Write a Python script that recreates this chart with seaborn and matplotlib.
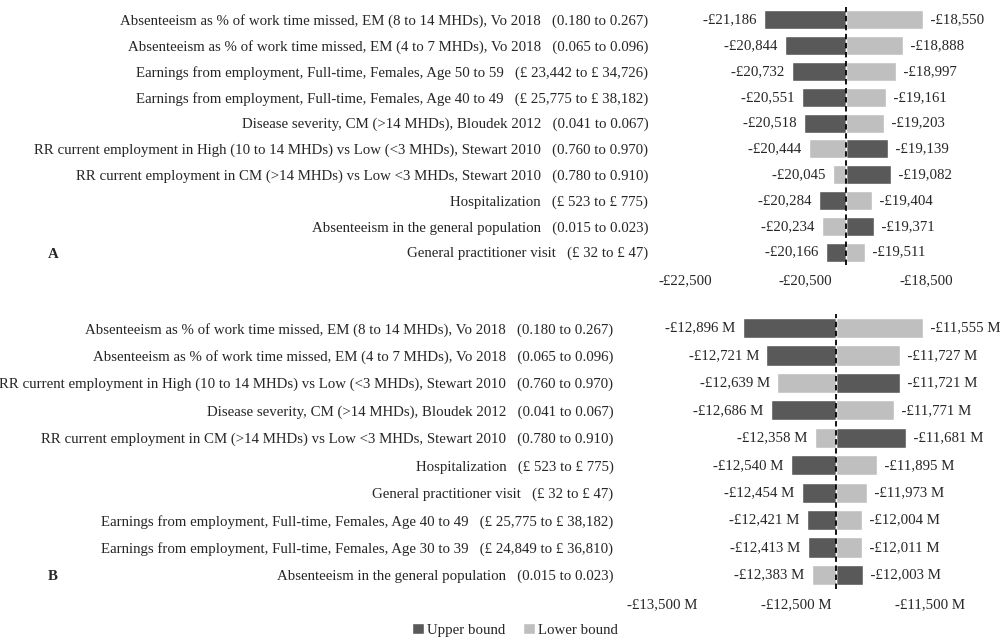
import matplotlib
matplotlib.use("Agg")
import matplotlib.pyplot as plt
import matplotlib.ticker as mticker
from matplotlib.patches import Patch
import seaborn as sns
import pandas as pd

sns.set_theme(style="white")
plt.rcParams['font.family'] = ['Liberation Serif', 'DejaVu Serif']

# ---- Data: panel A (per-person) ----
a_params = [
    "Absenteeism as % of work time missed, EM (8 to 14 MHDs), Vo 2018",
    "Absenteeism as % of work time missed, EM (4 to 7 MHDs), Vo 2018",
    "Earnings from employment, Full-time, Females, Age 50 to 59",
    "Earnings from employment, Full-time, Females, Age 40 to 49",
    "Disease severity, CM (>14 MHDs), Bloudek 2012",
    "RR current employment in High (10 to 14 MHDs) vs Low (<3 MHDs), Stewart 2010",
    "RR current employment in CM (>14 MHDs) vs Low <3 MHDs, Stewart 2010",
    "Hospitalization",
    "Absenteeism in the general population",
    "General practitioner visit",
]
a_ranges = [
    "(0.180 to 0.267)", "(0.065 to 0.096)", "(£ 23,442 to £ 34,726)",
    "(£ 25,775 to £ 38,182)", "(0.041 to 0.067)", "(0.760 to 0.970)",
    "(0.780 to 0.910)", "(£ 523 to £ 775)", "(0.015 to 0.023)", "(£ 32 to £ 47)",
]
a_upper = [-21186, -20844, -20732, -20551, -20518, -19139, -19082, -20284, -19371, -20166]
a_lower = [-18550, -18888, -18997, -19161, -19203, -20444, -20045, -19404, -20234, -19511]
a_base = -19830
a_ticks = [-22500, -20500, -18500]

# ---- Data: panel B (population, £ M) ----
b_params = [
    "Absenteeism as % of work time missed, EM (8 to 14 MHDs), Vo 2018",
    "Absenteeism as % of work time missed, EM (4 to 7 MHDs), Vo 2018",
    "RR current employment in High (10 to 14 MHDs) vs Low (<3 MHDs), Stewart 2010",
    "Disease severity, CM (>14 MHDs), Bloudek 2012",
    "RR current employment in CM (>14 MHDs) vs Low <3 MHDs, Stewart 2010",
    "Hospitalization",
    "General practitioner visit",
    "Earnings from employment, Full-time, Females, Age 40 to 49",
    "Earnings from employment, Full-time, Females, Age 30 to 39",
    "Absenteeism in the general population",
]
b_ranges = [
    "(0.180 to 0.267)", "(0.065 to 0.096)", "(0.760 to 0.970)",
    "(0.041 to 0.067)", "(0.780 to 0.910)", "(£ 523 to £ 775)",
    "(£ 32 to £ 47)", "(£ 25,775 to £ 38,182)", "(£ 24,849 to £ 36,810)",
    "(0.015 to 0.023)",
]
b_upper = [-12896, -12721, -11721, -12686, -11681, -12540, -12454, -12421, -12413, -12003]
b_lower = [-11555, -11727, -12639, -11771, -12358, -11895, -11973, -12004, -12011, -12383]
b_base = -12202
b_ticks = [-13500, -12500, -11500]

DARK = "#595959"
LIGHT = "#bfbfbf"
FS = 10.7

fig = plt.figure(figsize=(10, 6.4), dpi=100)
axA = fig.add_axes([0.685, 0.586, 0.241, 0.403])
axB = fig.add_axes([0.662, 0.080, 0.268, 0.429])


def tornado(ax, params, ranges, upper, lower, base, ticks, suffix, ypad):
    labels = [f"{p}   {r}" for p, r in zip(params, ranges)]
    df = pd.DataFrame({
        "label": labels * 2,
        "dev": [u - base for u in upper] + [l - base for l in lower],
        "value": upper + lower,
        "bound": ["Upper bound"] * len(labels) + ["Lower bound"] * len(labels),
    })
    sns.barplot(data=df, y="label", x="dev", hue="bound", order=labels,
                hue_order=["Upper bound", "Lower bound"],
                palette=[DARK, LIGHT], dodge=False, width=0.74,
                orient="h", ax=ax, legend=False, saturation=1)
    for i, (u, l) in enumerate(zip(upper, lower)):
        lo, hi = min(u, l), max(u, l)
        ax.text(lo - base, i, f"-£{abs(lo):,}{suffix}  ", ha="right", va="center", fontsize=FS)
        ax.text(hi - base, i, f"  -£{abs(hi):,}{suffix}", ha="left", va="center", fontsize=FS)
    ax.axvline(0, color="black", linestyle=(0, (3, 2)), linewidth=1.3)
    ax.set_xlim(ticks[0] - base, ticks[-1] - base)
    ax.set_ylim(len(labels) - 0.5, -0.5)
    ax.set_xticks([t - base for t in ticks])
    ax.xaxis.set_major_formatter(mticker.FuncFormatter(
        lambda v, _: f"-£{abs(round(v + base)):,}{suffix}"))
    ax.tick_params(axis="x", length=0, pad=7, labelsize=FS)
    ax.tick_params(axis="y", length=0, pad=ypad, labelsize=FS)
    ax.set_xlabel("")
    ax.set_ylabel("")
    for s in ax.spines.values():
        s.set_visible(False)


tornado(axA, a_params, a_ranges, a_upper, a_lower, a_base, a_ticks, "", 26.5)
tornado(axB, b_params, b_ranges, b_upper, b_lower, b_base, b_ticks, " M", 35)

fig.text(0.048, 1 - 254 / 640, "A", fontsize=FS, fontweight="bold", va="center")
fig.text(0.048, 1 - 577 / 640, "B", fontsize=FS, fontweight="bold", va="center")

handles = [Patch(facecolor=DARK, label="Upper bound"), Patch(facecolor=LIGHT, label="Lower bound")]
fig.legend(handles=handles, loc="center", bbox_to_anchor=(0.515, 1 - 630 / 640), ncol=2,
           frameon=False, fontsize=FS, handlelength=0.8, handleheight=0.8,
           handletextpad=0.2, columnspacing=1.2)

fig.savefig("out.png", dpi=100)
